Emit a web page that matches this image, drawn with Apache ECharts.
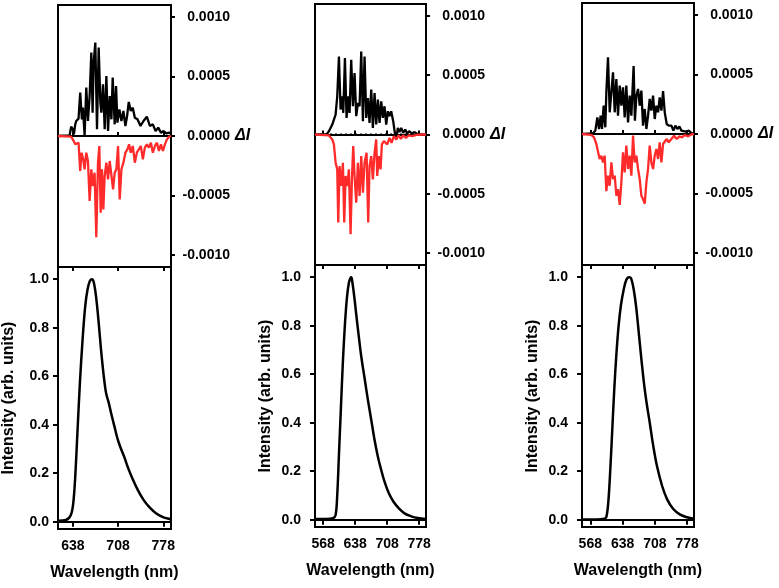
<!DOCTYPE html>
<html>
<head>
<meta charset="utf-8">
<script src="https://cdn.jsdelivr.net/npm/echarts@6/dist/echarts.min.js"></script>
<style>
html,body{margin:0;padding:0;background:#fff;}
#chart{width:779px;height:588px;}
</style>
</head>
<body>
<div id="chart"></div>
<script>
// ---------------- DATA ----------------
// x tick labels (nm)
const xTicksP1 = [638, 708, 778];
const xTicksP23 = [568, 638, 708, 778];
// y tick values
const dITicks = [-0.001, -0.0005, 0, 0.0005, 0.001];
const intTicks = [0, 0.2, 0.4, 0.6, 0.8, 1.0];
// x ranges (nm)
const xRangeP1 = [615, 790];
const xRangeP23 = [550, 793];

// Panel 1 difference spectra [wavelength, ΔI]
const p1Black = [[615,0],[633,6e-6],[635.4,7.8e-5],[638,5.6e-5],[639.6,1.4e-5],[641.7,9.8e-5],[643.2,1.26e-4],[646.8,1.46e-4],[649.4,3.64e-4],[652,1.4e-4],[653.6,2.38e-4],[656.2,6e-6],[658.8,4.06e-4],[661.4,1.26e-4],[664,3.36e-4],[666.6,7.0e-4],[668.6,1.96e-4],[670.2,6.16e-4],[672.8,7.84e-4],[675.4,5.6e-5],[678,7.42e-4],[680.6,2.8e-4],[682.1,1.96e-4],[684.7,4.34e-4],[687.3,5.6e-5],[689.9,5.04e-4],[692.5,4.2e-5],[695.1,3.36e-4],[697.7,1.4e-4],[699.7,4.9e-4],[702.8,9.8e-5],[704.9,4.2e-4],[707,1.12e-4],[710.1,2.24e-4],[713.2,1.26e-4],[716.3,2.1e-4],[719.4,8.4e-5],[722,1.68e-4],[724.6,2.86e-4],[727.7,2.1e-4],[730.8,2.38e-4],[734,1.54e-4],[738.1,1.4e-4],[742.8,8.4e-5],[747.4,1.26e-4],[752.6,1.62e-4],[757.3,8.4e-5],[761.9,9.8e-5],[766.1,4.2e-5],[770.2,7.0e-5],[774.4,2.8e-5],[778.5,4.2e-5],[782.7,2.2e-5],[786.8,2.8e-5],[790,2.0e-5]];
const p1Red = [[615,0],[635.4,-6e-6],[638,-3.0e-5],[639.6,-4.2e-5],[641.7,-7.0e-5],[644.3,-8.4e-5],[646.8,-5.6e-5],[649.4,-2.94e-4],[651.5,-1.4e-4],[654.1,-1.96e-4],[656.2,-2.8e-4],[658.8,-1.4e-4],[661.4,-2.1e-4],[664,-5.46e-4],[666.6,-2.8e-4],[669.1,-4.2e-4],[671.7,-3.08e-4],[674.3,-8.5e-4],[676.9,-2.24e-4],[679,-8.4e-5],[681.1,-6.44e-4],[683.1,-2.8e-4],[685.2,-6.16e-4],[687.3,-3.36e-4],[689.9,-2.24e-4],[692.5,-3.64e-4],[695.1,-2.1e-4],[697.7,-2.24e-4],[700.3,-4.48e-4],[702.8,-3.08e-4],[705.4,-2.8e-4],[708,-8.4e-5],[710.6,-5.32e-4],[713.2,-2.8e-4],[716.3,-2.24e-4],[719.4,-1.4e-4],[722.5,-1.12e-4],[725.1,-7.0e-5],[727.7,-1.4e-4],[730.8,-8.4e-5],[734,-2.24e-4],[737.1,-1.4e-4],[740.2,-1.12e-4],[743.3,-8.4e-5],[746.4,-1.96e-4],[749.5,-9.8e-5],[752.6,-7.0e-5],[755.7,-9.8e-5],[758.8,-5.6e-5],[761.9,-1.4e-4],[765.1,-8.4e-5],[768.2,-5.6e-5],[771.3,-1.26e-4],[774.4,-7.0e-5],[777.5,-1.26e-4],[780.6,-7.0e-5],[783.7,-2.8e-5],[786.8,-6e-6],[790,0]];
// Panel 1 emission spectrum [wavelength, intensity]
const p1Spec = [[615,0.004],[627.2,0.007],[634.9,0.028],[638.6,0.076],[641.7,0.186],[645.3,0.379],[648.9,0.572],[653.1,0.752],[657.2,0.89],[660.9,0.959],[664.5,0.993],[667.6,1.0],[670.2,0.989],[673.8,0.931],[678,0.821],[681.6,0.71],[685.3,0.614],[689.4,0.531],[693.6,0.49],[697.2,0.448],[702.4,0.393],[707.6,0.338],[712.7,0.3],[717.9,0.265],[723.1,0.225],[729.9,0.18],[738.7,0.13],[747.5,0.09],[756.8,0.059],[767.2,0.034],[777.6,0.019],[788,0.011],[790,0.01]];

// Panel 2
const p2Black = [[550,0],[575.4,0],[580.5,2.8e-5],[587.8,8.4e-5],[595.1,1.68e-4],[598.7,3.22e-4],[602.4,6.58e-4],[606,2.1e-4],[609.7,3.22e-4],[611.9,1.82e-4],[615.5,6.44e-4],[619.1,1.4e-4],[622.8,3.22e-4],[625.7,1.82e-4],[629.3,6.3e-4],[633,2.38e-4],[636.6,5.18e-4],[640.3,1.54e-4],[643.9,2.66e-4],[647.6,2.38e-4],[651.2,7.0e-4],[654.9,1.12e-4],[658.5,6.58e-4],[662.2,1.4e-4],[665.8,3.08e-4],[669.4,9.8e-5],[673.1,3.78e-4],[676.7,5.6e-5],[680.4,3.5e-4],[684,8.4e-5],[687.7,2.94e-4],[691.3,9.8e-5],[695,2.8e-4],[698.6,1.4e-4],[702.2,2.38e-4],[705.9,8.4e-5],[709.5,1.96e-4],[713.2,1.54e-4],[716.8,1.96e-4],[721.2,1.12e-4],[724.8,1.4e-5],[727.8,-4.2e-5],[731.4,5.6e-5],[735.1,2.0e-5],[738.7,5.6e-5],[743.1,1.4e-5],[747.5,4.2e-5],[751.8,8e-6],[756.2,2.8e-5],[762,8e-6],[767.9,2.0e-5],[775.2,3e-6],[784.6,0],[793,0]];
const p2Red = [[550,0],[580.5,-8e-6],[587.8,-4.2e-5],[591.4,-8.4e-5],[595.1,-2.38e-4],[598.7,-2.94e-4],[600.9,-7.42e-4],[603.8,-2.66e-4],[607.5,-4.34e-4],[611.1,-2.38e-4],[614,-7.42e-4],[617,-3.5e-4],[620.6,-4.34e-4],[624.2,-2.94e-4],[627.9,-8.4e-4],[630.8,-3.78e-4],[633.7,-9.8e-5],[636.6,-3.5e-4],[640.3,-5.74e-4],[643.9,-2.38e-4],[647.6,-5.18e-4],[651.2,-1.82e-4],[654.9,-4.9e-4],[658.5,-2.38e-4],[662.9,-1.54e-4],[666.5,-7.42e-4],[669.4,-2.66e-4],[673.1,-1.82e-4],[676.7,-3.78e-4],[680.4,-1.54e-4],[684,-4.2e-5],[686.2,-3.5e-4],[689.9,-1.82e-4],[693.5,-2.94e-4],[696.4,-8.4e-5],[700.8,-5.6e-5],[704.4,-4.2e-5],[708.1,-8.4e-5],[713.2,-2.8e-5],[717.6,-7.0e-5],[722.7,-1.4e-5],[727.8,-4.2e-5],[732.9,-8e-6],[738,-3.6e-5],[743.1,-8e-6],[748.9,-2.8e-5],[755.5,-8e-6],[762.8,-1.4e-5],[772.2,-3e-6],[784.6,0],[793,0]];
const p2Spec = [[550,0.003],[574.7,0.003],[589.2,0.006],[595.1,0.019],[598.7,0.102],[602.4,0.267],[606.7,0.46],[611.1,0.653],[615.5,0.804],[619.9,0.915],[624.2,0.977],[627.9,0.997],[629.5,1.0],[631.5,0.983],[635.9,0.921],[640.3,0.846],[645.4,0.763],[651.2,0.674],[658.5,0.584],[665.8,0.494],[673.1,0.412],[680.4,0.329],[687.7,0.26],[695,0.205],[702.2,0.157],[711.7,0.109],[721.9,0.074],[733.6,0.047],[746,0.026],[760.6,0.014],[775.1,0.007],[793,0.003]];

// Panel 3
const p3Black = [[550,0],[573.8,6e-6],[578.9,2.8e-5],[583.3,1.4e-4],[586.9,4.2e-5],[590.5,1.54e-4],[593.4,4.2e-5],[597,2.38e-4],[600.6,5.6e-5],[602.8,3.5e-4],[606.4,6.44e-4],[610.1,1.82e-4],[613.7,3.5e-4],[617.3,5.18e-4],[621,1.82e-4],[624.5,4.62e-4],[628.1,1.54e-4],[631.8,4.06e-4],[635.4,2.38e-4],[639,3.92e-4],[642.6,1.4e-4],[646.2,4.06e-4],[649.9,9.8e-5],[653.5,3.22e-4],[657.1,1.54e-4],[662,5.7e-4],[664.8,1.12e-4],[668,3.22e-4],[671.6,3.78e-4],[675.2,2.38e-4],[678.8,3.64e-4],[682.4,7.0e-5],[686.1,2.1e-4],[689.7,4.2e-5],[693.3,1.54e-4],[696.9,2.94e-4],[700.5,1.96e-4],[704.2,3.22e-4],[707.8,1.26e-4],[711.4,2.38e-4],[715,1.82e-4],[718.6,3.08e-4],[722.3,1.96e-4],[725.9,3.6e-4],[729.5,1.82e-4],[733.8,8.4e-5],[738.2,7.0e-5],[744,7.0e-5],[748.3,2.8e-5],[752.7,7.0e-5],[757,4.2e-5],[761.4,6.4e-5],[765.7,2.8e-5],[770,4.2e-5],[775.8,2.0e-5],[781.6,2.8e-5],[787.4,8e-6],[793,3e-6]];
const p3Red = [[550,0],[570.2,-8e-6],[576,-2.8e-5],[581.1,-8.4e-5],[584.7,-9.8e-5],[588.3,-2.1e-4],[591.9,-1.82e-4],[595.6,-2.38e-4],[599.2,-1.82e-4],[602.8,-4.8e-4],[606.4,-3.5e-4],[610.1,-4.34e-4],[613.7,-2.38e-4],[617.3,-3.78e-4],[621,-3.5e-4],[624.5,-5.18e-4],[628.1,-4.62e-4],[631.8,-5.95e-4],[635.4,-4.06e-4],[639,-1.54e-4],[642.6,-3.22e-4],[646.2,-9.8e-5],[649.9,-2.94e-4],[653.5,-1.82e-4],[657.1,-3.5e-4],[660.7,-1.4e-5],[664.3,-2.38e-4],[668,-1.82e-4],[671.6,-2.94e-4],[675.2,-3.78e-4],[678.8,-5.18e-4],[682.4,-5.46e-4],[686.1,-5.85e-4],[689.7,-4.06e-4],[693.3,-2.94e-4],[696.9,-9.8e-5],[700.5,-2.38e-4],[704.2,-2.94e-4],[707.8,-1.82e-4],[711.4,-1.26e-4],[715,-2.1e-4],[718.6,-7.0e-5],[722.3,-2.38e-4],[725.9,-8.4e-5],[729.5,-9.8e-5],[733.8,-4.2e-5],[738.2,-7.0e-5],[744,-4.2e-5],[749.7,-1.4e-5],[755.5,-4.2e-5],[761.4,-2.0e-5],[767.2,-2.8e-5],[773,-8e-6],[780.2,-2.0e-5],[787.4,-3e-6],[793,0]];
const p3Spec = [[550,0.001],[582.5,0.001],[598.4,0.004],[602.8,0.011],[607.1,0.073],[611.5,0.211],[615.8,0.376],[620.1,0.541],[624.5,0.679],[629.6,0.803],[634.6,0.886],[640.4,0.948],[646.2,0.989],[652,1.0],[656.3,0.996],[662.1,0.95],[667.9,0.87],[673.7,0.76],[679.5,0.65],[685.3,0.55],[691.1,0.47],[697,0.4],[704.1,0.31],[712.8,0.22],[723.7,0.14],[734.5,0.085],[747.6,0.045],[762.1,0.022],[778,0.01],[793,0.004]];

// ---------------- LAYOUT / STYLE ----------------
const FONT = '"Liberation Sans", Arial, sans-serif';
const panels = [
  {left: 58,  width: 113, topT: 5, hT: 262, hB: 262, xr: xRangeP1,  xt: xTicksP1,  yLabMargin: 9,  black: p1Black, red: p1Red, spec: p1Spec},
  {left: 315, width: 111, topT: 4, hT: 261, hB: 262, xr: xRangeP23, xt: xTicksP23, yLabMargin: 14, black: p2Black, red: p2Red, spec: p2Spec},
  {left: 582, width: 112, topT: 3, hT: 262, hB: 262, xr: xRangeP23, xt: xTicksP23, yLabMargin: 14, black: p3Black, red: p3Red, spec: p3Spec}
];

const grid = [], xAxis = [], yAxis = [], series = [];
const redCol = '#ff2a2a';
const lab = {color: '#000', fontFamily: FONT, fontWeight: 'bold', fontSize: 14};

panels.forEach((p) => {
  const gT = grid.length;
  grid.push({left: p.left, top: p.topT, width: p.width, height: p.hT, show: true, borderColor: '#000', borderWidth: 2, containLabel: false});
  const gB = grid.length;
  grid.push({left: p.left, top: p.topT + p.hT, width: p.width, height: p.hB, show: true, borderColor: '#000', borderWidth: 2, containLabel: false});

  const xT = xAxis.length;
  xAxis.push({type: 'value', gridIndex: gT, min: p.xr[0], max: p.xr[1], position: 'bottom',
    axisLine: {show: true, lineStyle: {color: '#000', width: 2}},
    axisTick: {show: true, inside: true, length: 4, lineStyle: {color: '#000', width: 2}, customValues: p.xt},
    axisLabel: {show: false, customValues: p.xt}, splitLine: {show: false}});
  const xB = xAxis.length;
  xAxis.push({type: 'value', gridIndex: gB, min: p.xr[0], max: p.xr[1], position: 'bottom',
    name: 'Wavelength (nm)', nameLocation: 'middle', nameGap: 36,
    nameTextStyle: {color: '#000', fontFamily: FONT, fontWeight: 'bold', fontSize: 16},
    axisLine: {show: true, lineStyle: {color: '#000', width: 2}},
    axisTick: {show: true, inside: false, length: 5, lineStyle: {color: '#000', width: 2}, customValues: p.xt},
    axisLabel: Object.assign({margin: 10, customValues: p.xt, formatter: v => String(v)}, lab),
    splitLine: {show: false}});
  xAxis.push({type: 'value', gridIndex: gB, min: p.xr[0], max: p.xr[1], position: 'top',
    axisLine: {show: true, lineStyle: {color: '#000', width: 2}},
    axisTick: {show: true, inside: true, length: 4, lineStyle: {color: '#000', width: 2}, customValues: p.xt},
    axisLabel: {show: false, customValues: p.xt}, splitLine: {show: false}});

  const yT = yAxis.length;
  yAxis.push({type: 'value', gridIndex: gT, min: -0.0011, max: 0.0011, position: 'right',
    name: 'ΔI', nameLocation: 'middle', nameRotate: 0, nameGap: 63,
    nameTextStyle: {color: '#000', fontFamily: FONT, fontWeight: 'bold', fontStyle: 'italic', fontSize: 16, align: 'left'},
    axisLine: {show: true, lineStyle: {color: '#000', width: 2}},
    axisTick: {show: true, inside: false, length: 4, lineStyle: {color: '#000', width: 2}, customValues: dITicks},
    axisLabel: Object.assign({margin: 59, align: 'right', customValues: dITicks, formatter: v => v.toFixed(4)}, lab),
    splitLine: {show: false}});
  const yB = yAxis.length;
  yAxis.push({type: 'value', gridIndex: gB, min: -0.03, max: 1.05, position: 'left',
    name: 'Intensity (arb. units)', nameLocation: 'middle', nameGap: 41,
    nameTextStyle: {color: '#000', fontFamily: FONT, fontWeight: 'bold', fontSize: 16},
    axisLine: {show: true, lineStyle: {color: '#000', width: 2}},
    axisTick: {show: true, inside: false, length: 5, lineStyle: {color: '#000', width: 2}, customValues: intTicks},
    axisLabel: Object.assign({margin: p.yLabMargin, customValues: intTicks, formatter: v => v.toFixed(1)}, lab),
    splitLine: {show: false}});

  series.push({type: 'line', xAxisIndex: xT, yAxisIndex: yT, data: [[p.xr[0], 0], [p.xr[1], 0]],
    symbol: 'none', z: 1, silent: true, lineStyle: {color: '#000', width: 2, type: [2, 3]}});
  series.push({type: 'line', xAxisIndex: xT, yAxisIndex: yT, data: p.black, symbol: 'none', z: 3,
    lineStyle: {color: '#000', width: 2.3}, clip: true});
  series.push({type: 'line', xAxisIndex: xT, yAxisIndex: yT, data: p.red, symbol: 'none', z: 4,
    lineStyle: {color: redCol, width: 2.3}, clip: true});
  series.push({type: 'line', xAxisIndex: xB, yAxisIndex: yB, data: p.spec, symbol: 'none', z: 3, smooth: 0.35,
    lineStyle: {color: '#000', width: 2.5}, clip: true});
});

const chart = echarts.init(document.getElementById('chart'), null, {renderer: 'canvas'});
chart.setOption({animation: false, backgroundColor: '#fff', grid, xAxis, yAxis, series});
</script>
</body>
</html>
